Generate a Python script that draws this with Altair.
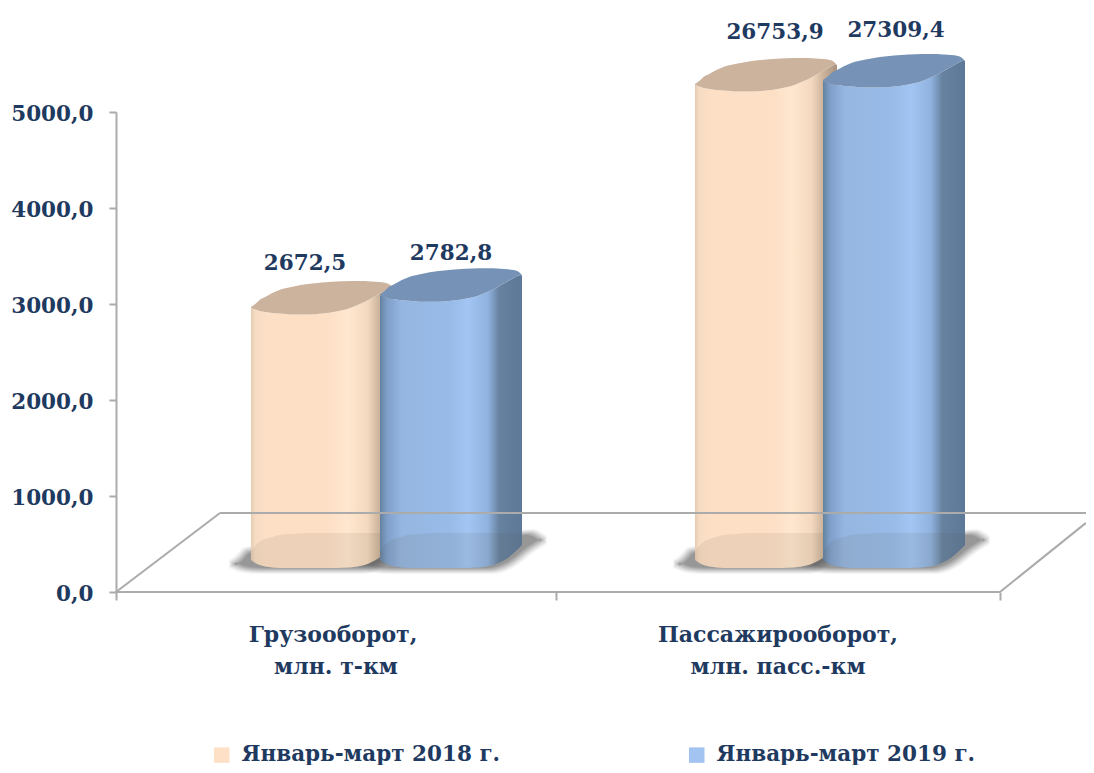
import altair as alt
import pandas as pd

# --- values ---
CATEGORY_LINE1 = ["Грузооборот,", "Пассажирооборот,"]
CATEGORY_LINE2 = ["млн. т-км", "млн. пасс.-км"]
SERIES = ["Январь-март 2018 г.", "Январь-март 2019 г."]
VALUE_LABELS = ["2672,5", "2782,8", "26753,9", "27309,4"]
DRAWN_HEIGHTS = [2958, 3090, 5280, 5323]      # heights as drawn (broken scale in the source)
BAR_SERIES = [0, 1, 0, 1]
BAR_LEFT = [135, 264, 579, 707]               # x scale units
LABEL_X = [189, 335, 659, 780]
LABEL_Y = [3415, 3520, 5820, 5845]
CAT_X = [217, 662]
CAT_X2 = [220, 662]
COLORS = ["#fde0c6", "#a3c4f0"]

# --- cylinder outline (scale px offsets) ---
U = [0, .03, .06, .10, .15, .20, .30, .40, .50, .60, .70, .75, .80, .85, .90, .95, .98, 1]
TOP_UP = [1, 4, 8, 11, 15, 18, 21.5, 24, 25.5, 26.5, 27, 27, 27, 26.5, 26, 25, 23, 20]
TOP_LOW = [0, -1.5, -3, -4, -5, -5.5, -6.5, -6.5, -5.5, -3.5, 0, 3, 6, 10, 14, 18, 20, 20]
BOT = [8, 5, 3, 1.5, .5, 0, 0, 0, 0, 0, .5, 1.5, 3, 6, 10, 16, 20, 23]
SHADE = [17, 22, 26, 29, 31, 33, 34, 35, 35, 35, 35, 35, 35, 35, 35, 35, 35, 35]
BASE_VALUE = 250
W = 142
PXV = 5000 / 480

cyl = []
for b, (left, h, s) in enumerate(zip(BAR_LEFT, DRAWN_HEIGHTS, BAR_SERIES)):
    for i, u in enumerate(U):
        cyl.append({
            "bar": b, "s": SERIES[s], "x": left + u * W,
            "top_up": h + TOP_UP[i] * PXV, "top_low": h + TOP_LOW[i] * PXV,
            "bot": BASE_VALUE + BOT[i] * PXV, "shade": BASE_VALUE + SHADE[i] * PXV,
        })
cyl = pd.DataFrame(cyl)

# soft drop shadow under each cylinder (nested rings)
SH_X = [-19, -12, -4, 12, 60, 110, 130, 150, 164]
SH_UP = [5, 10, 18, 20, 25, 32, 34, 36, 29]
SH_LOW = [3, 0, -2, -3, -3, -3, 3, 18, 27]
SH_RING = [3, 2, 1, 0, -1, -2, -3]
SH_OPACITY = [.06, .08, .1, .12, .14, .16, .18]
sh = []
for r, g in enumerate(SH_RING):
    for b, left in enumerate(BAR_LEFT):
        for i, dx in enumerate(SH_X):
            cx = dx + (-g if i < 4 else g)
            sh.append({"ring": r, "bar": b, "x": left + cx,
                       "y": BASE_VALUE + (SH_UP[i] + g) * PXV, "y2": BASE_VALUE + (SH_LOW[i] - g) * PXV})
sh = pd.DataFrame(sh)

rects = pd.DataFrame([{"s": SERIES[s], "x": l + 10, "x2": l + 100, "y": BASE_VALUE + 40 * PXV, "y2": h - 30 * PXV}
                      for l, s, h in zip(BAR_LEFT, BAR_SERIES, DRAWN_HEIGHTS)])

floor = pd.DataFrame({
    "x": [0, 0, 104, 884], "x2": [884, 104, 970, 970],
    "y": [0, 0, 823, 0], "y2": [0, 823, 823, 720],
})
back = floor.iloc[[2]]

FONT = "DejaVu Serif"
INK = "#1f3a60"
LINE = "#ababab"

xax = alt.Axis(values=[0, 440, 884], labels=False, domain=False, ticks=True, tickSize=8, tickColor=LINE,
               tickWidth=2, grid=False, title=None)
yax = alt.Axis(values=[0, 1000, 2000, 3000, 4000, 5000], labelExpr="replace(format(datum.value, '.1f'), '.', ',')",
               domainColor=LINE, domainWidth=2, tickColor=LINE, tickWidth=2, tickSize=7, grid=False, title=None,
               labelFont=FONT, labelFontSize=21.5, labelFontWeight="bold", labelColor=INK, labelPadding=16,
               labelOffset=2)
xs = alt.Scale(domain=[0, 970], nice=False)
ys = alt.Scale(domain=[0, 5000], nice=False)
X = alt.X("x:Q", scale=xs, axis=xax)
Y = alt.Y("y:Q", scale=ys, axis=yax)


def grad(stops):
    return alt.LinearGradient(gradient="linear", x1=0, x2=1, y1=0, y2=0,
                              stops=[alt.GradientStop(offset=o, color=c) for o, c in stops])


BODY_GRAD = {
    0: grad([(0, "#e6cbb3"), (.03, "#f6dcc3"), (.1, "#fcdfc5"), (.55, "#fddfc6"), (.68, "#ffe7cf"), (.82, "#f4d9bf"),
             (.9, "#cdb49d"), (1, "#a8937f")]),
    1: grad([(0, "#64829f"), (.05, "#7f9fca"), (.15, "#95b6e0"), (.5, "#98bbe8"), (.62, "#a2c5f3"), (.76, "#90b2de"),
             (.84, "#66829f"), (1, "#5d7898")]),
}
TOP_COLOR = {0: "#cbb39e", 1: "#7692b6"}

line_layer = alt.Chart(back).mark_rule(color=LINE, strokeWidth=2).encode(
    x=X, x2="x2:Q", y=Y, y2="y2:Q")
floor_layer = alt.Chart(floor).mark_rule(color=LINE, strokeWidth=2).encode(
    x=X, x2="x2:Q", y=Y, y2="y2:Q")

shadow_layers = [
    alt.Chart(sh[sh.ring == r]).mark_area(color="#555555", opacity=op, interpolate="monotone").encode(
        x=X, y=Y, y2="y2:Q", detail="bar:N")
    for r, op in enumerate(SH_OPACITY)
]

legend_rect = alt.Chart(rects).mark_rect().encode(
    x=X, x2="x2:Q", y=Y, y2="y2:Q",
    color=alt.Color("s:N", scale=alt.Scale(domain=SERIES, range=COLORS), title=None,
                    legend=alt.Legend(orient="none", legendX=95, legendY=632, columns=2, columnPadding=185,
                                      symbolType="square", symbolSize=240, symbolStrokeWidth=0, labelOffset=9,
                                      labelFont=FONT, labelFontSize=21.5, labelFontWeight="bold", labelColor=INK,
                                      labelLimit=400)),
)


def cyl_layers(s):
    d = cyl[cyl.bar.isin([b for b, v in enumerate(BAR_SERIES) if v == s])]
    return [
        alt.Chart(d).mark_area(color=BODY_GRAD[s], interpolate="monotone").encode(
            x=X, y=alt.Y("top_low:Q", scale=ys, axis=yax), y2="bot:Q", detail="bar:N"),
        alt.Chart(d).mark_area(color="#5a4a3a", opacity=.09, interpolate="monotone").encode(
            x=X, y=alt.Y("shade:Q", scale=ys, axis=yax), y2="bot:Q", detail="bar:N"),
        alt.Chart(d).mark_area(color=TOP_COLOR[s], interpolate="monotone").encode(
            x=X, y=alt.Y("top_up:Q", scale=ys, axis=yax), y2="top_low:Q", detail="bar:N"),
    ]


back_over = alt.Chart(back).mark_rule(color="#555555", strokeWidth=1.5, opacity=.22).encode(
    x=X, x2="x2:Q", y=Y, y2="y2:Q")

vals = pd.DataFrame({"x": LABEL_X, "y": LABEL_Y, "t": VALUE_LABELS})
value_text = alt.Chart(vals).mark_text(font=FONT, fontSize=21.5, fontWeight="bold", color=INK).encode(
    x=X, y=Y, text="t:N")

cats = pd.DataFrame({"x": CAT_X + CAT_X2, "y": [-445, -445, -782, -782],
                     "t": CATEGORY_LINE1 + CATEGORY_LINE2})
cat_text = alt.Chart(cats).mark_text(font=FONT, fontSize=22, fontWeight="bold", color=INK).encode(
    x=X, y=Y, text="t:N")

chart = alt.layer(
    line_layer, *shadow_layers, legend_rect, *cyl_layers(0), *cyl_layers(1), back_over, floor_layer,
    value_text, cat_text,
).properties(
    width=970, height=480,
    autosize=alt.AutoSizeParams(type="none"),
    padding={"left": 108, "top": 104, "right": 0, "bottom": 173},
    background="white",
).configure_view(stroke=None)

chart.save("out.html", embed_options={"renderer": "svg", "actions": False})
